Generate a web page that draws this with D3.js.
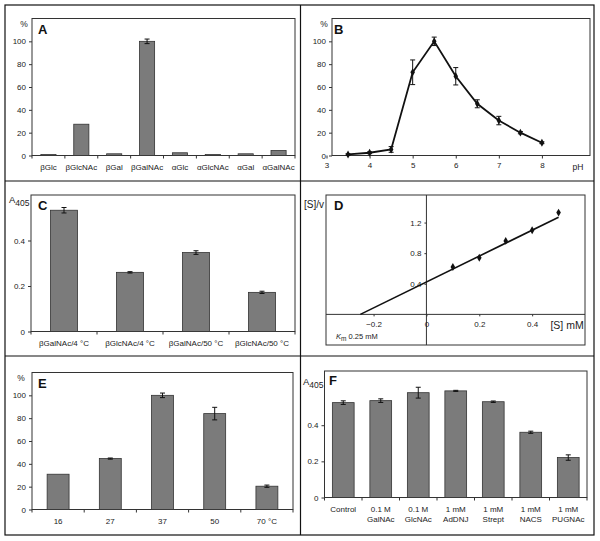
<!DOCTYPE html>
<html><head><meta charset="utf-8">
<script src="https://cdn.jsdelivr.net/npm/d3@7"></script>
<style>
body{margin:0;background:#fff}
svg{display:block}
text{font-family:"Liberation Sans",Arial,sans-serif;fill:#222}
</style>
</head><body><svg id="c" width="600" height="541"></svg>
<script>
// ---------- Panel A ----------
const catsA = ["βGlc","βGlcNAc","βGal","βGalNAc","αGlc","αGlcNAc","αGal","αGalNAc"];
const valsA = [0.9,27.4,1.5,100,2.4,0.9,1.5,4.4];
const errsA = [0,0,0,2,0,0,0,0];
const ticksA = [0,20,40,60,80,100];
// ---------- Panel B ----------
const phB = [3.5,4,4.5,5,5.5,6,6.5,7,7.5,8];
const valsB = [0.9,2.4,5.3,72.9,100,69.4,45.3,30.6,20,11.2];
const errsB = [0.6,0.8,2.5,10.8,3.7,7.6,3.5,3.7,1,0.8];
const xTicksB = [3,4,5,6,7,8];
const yTicksB = [0,20,40,60,80,100];
// ---------- Panel C ----------
const catsC = ["βGalNAc/4 °C","βGlcNAc/4 °C","βGalNAc/50 °C","βGlcNAc/50 °C"];
const valsC = [0.533,0.26,0.347,0.172];
const errsC = [0.012,0.003,0.008,0.005];
const ticksC = [0,0.2,0.4];
// ---------- Panel D ----------
const sD = [0.1,0.2,0.3,0.4,0.5];
const svD = [0.62,0.74,0.96,1.1,1.33];
const fitD = [[-0.25,0],[0.5,1.27]];
const xTicksD = [-0.2,0,0.2,0.4];
const yTicksD = [0.4,0.8,1.2];
// ---------- Panel E ----------
const catsE = ["16","27","37","50","70 °C"];
const valsE = [30.9,44.6,100,84,20.4];
const errsE = [0,0.5,2,5.5,1];
const ticksE = [0,20,40,60,80,100];
// ---------- Panel F ----------
const catsF = [["Control"],["0.1 M","GalNAc"],["0.1 M","GlcNAc"],["1 mM","AdDNJ"],["1 mM","Strept"],["1 mM","NACS"],["1 mM","PUGNAc"]];
const valsF = [0.525,0.536,0.58,0.59,0.53,0.361,0.221];
const errsF = [0.01,0.01,0.03,0.003,0.004,0.006,0.015];
const ticksF = [0,0.2,0.4];

const svg = d3.select("#c");
const BAR = "#7b7b7b", FRAME = "#333";

// panel borders
svg.append("rect").attr("x",5).attr("y",5).attr("width",589).attr("height",530)
  .attr("fill","none").attr("stroke","#111").attr("stroke-width",1.2);
svg.append("line").attr("x1",300.5).attr("x2",300.5).attr("y1",5).attr("y2",535).attr("stroke","#111").attr("stroke-width",1.2);
svg.append("line").attr("x1",5).attr("x2",594).attr("y1",181).attr("y2",181).attr("stroke","#111").attr("stroke-width",1.2);
svg.append("line").attr("x1",5).attr("x2",594).attr("y1",356).attr("y2",356).attr("stroke","#111").attr("stroke-width",1.2);

function frame(g,x0,x1,y0,y1){
  g.append("rect").attr("x",x0).attr("y",y1).attr("width",x1-x0).attr("height",y0-y1)
   .attr("fill","none").attr("stroke",FRAME).attr("stroke-width",1);
}
function letter(g,t,x,y){
  g.append("text").attr("x",x).attr("y",y).attr("font-size",13).attr("font-weight","bold").style("fill","#111").text(t);
}
function a405(g,x,y){
  const t=g.append("text").attr("x",x).attr("y",y).attr("font-size",9.5);
  t.append("tspan").text("A");
  t.append("tspan").attr("dy",3).attr("font-size",8.5).text("405");
}
function yAxis(g,y,x0,ticks,fmt){
  const ax=g.append("g").attr("transform",`translate(${x0},0)`)
    .call(d3.axisLeft(y).tickValues(ticks).tickSize(3).tickPadding(3).tickFormat(fmt));
  ax.select(".domain").remove();
  ax.selectAll("line").attr("stroke",FRAME);
  ax.selectAll("text").attr("font-size",8).style("font-family","Liberation Sans, Arial, sans-serif").style("fill","#222");
}

function barPanel(o){
  const g=svg.append("g");
  const x=d3.scaleBand().domain(d3.range(o.vals.length)).range([o.x0,o.x1]).paddingInner(0).paddingOuter(0);
  const y=d3.scaleLinear().domain([0,o.ymax]).range([o.y0,o.y1]);
  frame(g,o.x0,o.x1,o.y0,o.y1);
  yAxis(g,y,o.x0,o.ticks,o.fmt);
  const bounds=d3.range(o.vals.length+1).map(i=>i<o.vals.length?x(i):o.x1);
  g.selectAll(null).data(bounds).join("line")
    .attr("x1",d=>d).attr("x2",d=>d).attr("y1",o.y0).attr("y2",o.y0+3).attr("stroke",FRAME);
  const bw=x.bandwidth()*o.frac;
  g.selectAll(null).data(o.vals).join("rect")
    .attr("x",(d,i)=>x(i)+(x.bandwidth()-bw)/2).attr("width",bw)
    .attr("y",d=>y(d)).attr("height",d=>o.y0-y(d))
    .attr("fill",BAR).attr("stroke","#333").attr("stroke-width",0.8);
  const eb=o.vals.map((v,i)=>({i,v,e:o.errs[i]})).filter(d=>d.e>0);
  const cx=d=>x(d.i)+x.bandwidth()/2;
  g.selectAll(null).data(eb).join("line").attr("x1",cx).attr("x2",cx)
    .attr("y1",d=>y(d.v+d.e)).attr("y2",d=>y(d.v-d.e)).attr("stroke","#111");
  [1,-1].forEach(s=>{
    g.selectAll(null).data(eb).join("line").attr("x1",d=>cx(d)-2.5).attr("x2",d=>cx(d)+2.5)
      .attr("y1",d=>y(d.v+s*d.e)).attr("y2",d=>y(d.v+s*d.e)).attr("stroke","#111");
  });
  o.cats.forEach((c,i)=>{
    const lines=Array.isArray(c)?c:[c];
    lines.forEach((l,k)=>{
      g.append("text").attr("x",x(i)+x.bandwidth()/2).attr("y",o.labelY+k*10)
        .attr("text-anchor","middle").attr("font-size",8).text(l);
    });
  });
  return g;
}

// ---- A ----
const gA=barPanel({x0:32,x1:295,y0:155.5,y1:18.5,cats:catsA,vals:valsA,errs:errsA,ymax:120,ticks:ticksA,fmt:d3.format("d"),frac:0.46,labelY:170});
gA.append("text").attr("x",24).attr("y",27).attr("text-anchor","middle").attr("font-size",8.5).text("%");
letter(gA,"A",38,34);

// ---- C ----
const gC=barPanel({x0:31,x1:295,y0:331.5,y1:195,cats:catsC,vals:valsC,errs:errsC,ymax:0.6,ticks:ticksC,fmt:d=>d===0?"0":d3.format(".1f")(d),frac:0.41,labelY:346});
a405(gC,9,203);
letter(gC,"C",38,210);

// ---- E ----
const gE=barPanel({x0:32,x1:293,y0:509.5,y1:372.5,cats:catsE,vals:valsE,errs:errsE,ymax:120,ticks:ticksE,fmt:d3.format("d"),frac:0.42,labelY:524});
gE.append("text").attr("x",21).attr("y",381).attr("text-anchor","middle").attr("font-size",8.5).text("%");
letter(gE,"E",38,388);

// ---- F ----
const gF=barPanel({x0:324.5,x1:587,y0:497.5,y1:371,cats:catsF,vals:valsF,errs:errsF,ymax:0.7,ticks:ticksF,fmt:d=>d===0?"0":d3.format(".1f")(d),frac:0.58,labelY:512});
a405(gF,303,385);
letter(gF,"F",329,385);

// ---- B ----
(function(){
  const g=svg.append("g");
  const x0=332,x1=590,y0=155.5,y1=18.5;
  const x=d3.scaleLinear().domain([3,9]).range([326.5,585]);
  const y=d3.scaleLinear().domain([0,120]).range([y0,y1]);
  frame(g,x0,x1,y0,y1);
  yAxis(g,y,x0,yTicksB,d3.format("d"));
  const ax=g.append("g").attr("transform",`translate(0,${y0})`)
    .call(d3.axisBottom(x).tickValues(xTicksB).tickSize(3).tickPadding(4).tickFormat(d3.format("d")));
  ax.select(".domain").remove();
  ax.selectAll("line").attr("stroke",FRAME);
  ax.selectAll("text").attr("font-size",8).style("fill","#222");
  g.append("text").attr("x",578).attr("y",170).attr("text-anchor","middle").attr("font-size",8.5).text("pH");
  g.append("text").attr("x",324).attr("y",27).attr("text-anchor","middle").attr("font-size",8.5).text("%");
  letter(g,"B",334,34);
  const pts=phB.map((p,i)=>({p,v:valsB[i],e:errsB[i]}));
  g.selectAll(null).data(pts).join("line").attr("x1",d=>x(d.p)).attr("x2",d=>x(d.p))
    .attr("y1",d=>y(d.v+d.e)).attr("y2",d=>y(Math.max(0,d.v-d.e))).attr("stroke","#111");
  [1,-1].forEach(s=>{
    g.selectAll(null).data(pts).join("line").attr("x1",d=>x(d.p)-2.5).attr("x2",d=>x(d.p)+2.5)
      .attr("y1",d=>y(Math.max(0,d.v+s*d.e))).attr("y2",d=>y(Math.max(0,d.v+s*d.e))).attr("stroke","#111");
  });
  g.append("path").datum(pts).attr("d",d3.line().x(d=>x(d.p)).y(d=>y(d.v)))
    .attr("fill","none").attr("stroke","#111").attr("stroke-width",1.8);
  g.selectAll(null).data(pts).join("path")
    .attr("transform",d=>`translate(${x(d.p)},${y(d.v)})`)
    .attr("d",d3.symbol(d3.symbolDiamond,18)).attr("fill","#111");
})();

// ---- D ----
(function(){
  const g=svg.append("g");
  const x0=326,x1=585,yb=345,yt=195;
  const x=d3.scaleLinear().domain([-0.38,0.6]).range([x0,x1]);
  const y=d3.scaleLinear().domain([-0.4,1.56]).range([yb,yt]);
  frame(g,x0,x1,yb,yt);
  g.append("line").attr("x1",x0).attr("x2",x1).attr("y1",y(0)).attr("y2",y(0)).attr("stroke",FRAME);
  g.append("line").attr("x1",x(0)).attr("x2",x(0)).attr("y1",yt).attr("y2",yb).attr("stroke",FRAME);
  const ax=g.append("g").attr("transform",`translate(0,${y(0)})`)
    .call(d3.axisBottom(x).tickValues(xTicksD).tickSize(2).tickPadding(5).tickFormat(d=>d===0?"0":d3.format(".1f")(d)));
  ax.select(".domain").remove();
  ax.selectAll("line").attr("stroke",FRAME);
  ax.selectAll("text").attr("font-size",8).style("fill","#222");
  const ay=g.append("g").attr("transform",`translate(${x(0)},0)`)
    .call(d3.axisLeft(y).tickValues(yTicksD).tickSize(2).tickPadding(3).tickFormat(d3.format(".1f")));
  ay.select(".domain").remove();
  ay.selectAll("line").attr("stroke",FRAME);
  ay.selectAll("text").attr("font-size",8).style("fill","#222");
  g.append("path").datum(fitD).attr("d",d3.line().x(d=>x(d[0])).y(d=>y(d[1])))
    .attr("fill","none").attr("stroke","#111").attr("stroke-width",1.6);
  g.selectAll(null).data(sD).join("path")
    .attr("transform",(d,i)=>`translate(${x(d)},${y(svD[i])})`)
    .attr("d",d3.symbol(d3.symbolDiamond,18)).attr("fill","#111");
  g.append("text").attr("x",567).attr("y",329).attr("text-anchor","middle").attr("font-size",10.5).text("[S] mM");
  g.append("text").attr("x",304).attr("y",208).attr("font-size",10).text("[S]/v");
  letter(g,"D",334,210);
  const km=g.append("text").attr("x",336).attr("y",339).attr("font-size",7.5);
  km.append("tspan").attr("font-style","italic").text("K");
  km.append("tspan").attr("dy",2).attr("font-size",6.5).text("m");
  km.append("tspan").attr("dy",-2).text(" 0.25 mM");
})();
</script>
</body></html>
